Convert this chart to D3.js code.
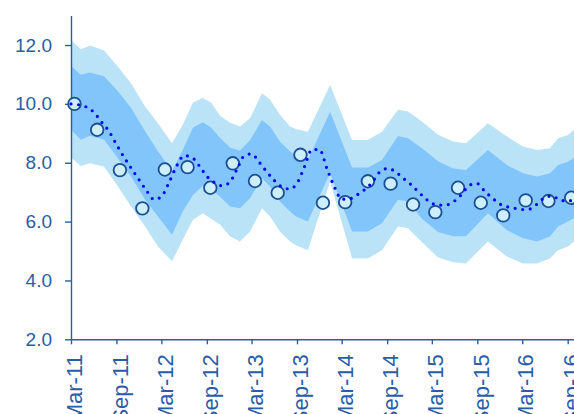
<!DOCTYPE html>
<html>
<head>
<meta charset="utf-8">
<script src="https://cdn.jsdelivr.net/npm/d3@7"></script>
<style>
  body { margin: 0; background: #fff; }
  svg { display: block; }
  .axis path, .axis line { stroke: #2a5ca8; stroke-width: 1.4; }
  .axis text { fill: #2a5ca8; font-family: "Liberation Sans", Arial, sans-serif; }
</style>
</head>
<body>
<svg id="chart" width="574" height="414"></svg>
<script>
const parseDate = d3.timeParse("%Y-%m-%d");

// Fan band vertices (dates where the band edges change direction)
const bandDates = [
  "2011-03-01", "2011-04-10", "2011-05-17", "2011-07-13", "2011-09-07", "2011-10-30", "2011-12-26",
  "2012-02-16", "2012-04-13", "2012-05-27", "2012-07-07", "2012-08-16", "2012-09-18", "2012-10-24", "2012-12-04",
  "2013-01-13", "2013-02-23", "2013-04-12", "2013-05-15", "2013-06-24", "2013-08-04", "2013-08-28", "2013-10-15",
  "2014-01-13", "2014-04-12", "2014-06-15", "2014-08-11", "2014-10-15", "2014-11-24",
  "2015-01-20", "2015-03-26", "2015-05-26", "2015-07-17", "2015-10-14", "2015-12-30",
  "2016-03-04", "2016-04-30", "2016-06-21", "2016-07-24", "2016-09-02", "2016-09-30"
];
const outerHigh = [12.17, 11.86, 11.98, 11.81, 11.26, 10.70, 9.91, 9.34, 8.66, 9.30, 10.05, 10.20, 10.05, 9.60, 9.36,
  9.23, 9.51, 10.36, 10.14, 9.63, 9.23, 9.15, 9.05, 10.64, 8.77, 8.77, 9.05, 9.80, 9.74,
  9.40, 8.95, 8.72, 8.66, 9.34, 8.89, 8.55, 8.43, 8.49, 8.83, 8.94, 9.15];
const innerHigh = [11.29, 10.99, 11.07, 10.94, 10.43, 9.87, 9.07, 8.39, 7.72, 8.45, 9.20, 9.38, 9.20, 8.85, 8.52,
  8.41, 8.77, 9.45, 9.23, 8.72, 8.38, 8.25, 8.09, 9.73, 7.84, 7.84, 8.09, 8.91, 8.83,
  8.49, 8.05, 7.80, 7.75, 8.43, 7.92, 7.64, 7.53, 7.64, 7.92, 8.03, 8.18];
const innerLow = [9.12, 8.78, 8.92, 8.78, 8.15, 7.53, 6.74, 6.17, 5.55, 6.35, 6.90, 7.22, 7.10, 6.85, 6.51,
  6.45, 6.79, 7.47, 7.19, 6.68, 6.34, 6.17, 6.00, 7.65, 5.66, 5.66, 5.94, 6.74, 6.68,
  6.10, 5.65, 5.50, 5.50, 6.28, 5.71, 5.43, 5.32, 5.49, 5.83, 6.00, 6.13];
const outerLow = [8.18, 7.89, 7.98, 7.86, 7.19, 6.51, 5.83, 5.15, 4.65, 5.40, 6.06, 6.28, 6.10, 5.90, 5.49,
  5.32, 5.66, 6.45, 6.17, 5.66, 5.32, 5.20, 5.03, 7.36, 4.75, 4.75, 5.03, 5.83, 5.77,
  5.30, 4.78, 4.62, 4.58, 5.32, 4.81, 4.58, 4.58, 4.75, 5.03, 5.15, 5.35];

// Central projection, one value per month from Mar-11 to Oct-16
const trendFirst = "2011-03-01";
const trendValues = [
  10.00, 9.97, 9.90, 9.72, 9.40, 9.08, 8.62, 8.20, 7.80, 7.43, 7.05, 6.75,
  6.85, 7.33, 7.88, 8.24, 8.19, 7.90, 7.54, 7.33, 7.22, 7.32, 7.78, 8.25,
  8.30, 8.02, 7.70, 7.40, 7.18, 7.11, 7.30, 7.86, 8.45, 8.45, 7.78, 7.15,
  6.76, 6.77, 6.90, 7.08, 7.32, 7.68, 7.80, 7.72, 7.50, 7.30, 7.05, 6.80,
  6.62, 6.56, 6.57, 6.70, 6.94, 7.24, 7.29, 7.03, 6.80, 6.60, 6.50, 6.45,
  6.41, 6.43, 6.60, 6.82, 6.87, 6.73, 6.70, 6.75
];

// Observed quarterly values
const obsDates = [
  "2011-03-15", "2011-06-15", "2011-09-15", "2011-12-15", "2012-03-15", "2012-06-15", "2012-09-15", "2012-12-15",
  "2013-03-15", "2013-06-15", "2013-09-15", "2013-12-15", "2014-03-15", "2014-06-15", "2014-09-15", "2014-12-15",
  "2015-03-15", "2015-06-15", "2015-09-15", "2015-12-15", "2016-03-15", "2016-06-15", "2016-09-15"
];
const obsValues = [10.0, 9.12, 7.75, 6.45, 7.77, 7.85, 7.15, 7.98, 7.38, 6.98, 8.27, 6.64,
  6.66, 7.37, 7.29, 6.58, 6.32, 7.15, 6.64, 6.21, 6.72, 6.70, 6.81];

// Axis ticks
const xTicks = ["2011-03-01", "2011-09-01", "2012-03-01", "2012-09-01", "2013-03-01", "2013-09-01",
  "2014-03-01", "2014-09-01", "2015-03-01", "2015-09-01", "2016-03-01", "2016-09-01"];
const yTicks = [2, 4, 6, 8, 10, 12];

const svg = d3.select("#chart");

// Scales: first and last tick pinned, then domain stretched past the right edge
const x = d3.scaleTime()
    .domain([parseDate(xTicks[0]), parseDate(xTicks[xTicks.length - 1])])
    .range([71, 567.7]);
const xEndDate = parseDate("2016-10-15");
x.range([71, x(xEndDate)]).domain([parseDate(xTicks[0]), xEndDate]);

const y = d3.scaleLinear()
    .domain([2, 13])
    .range([339.3, 15.6]);

// Band table
const bands = bandDates.map((d, i) => ({
  date: parseDate(d),
  oh: outerHigh[i], ih: innerHigh[i], il: innerLow[i], ol: outerLow[i]
}));

const outerArea = d3.area()
    .x(d => x(d.date))
    .y0(d => y(d.ol))
    .y1(d => y(d.oh));

const innerArea = d3.area()
    .x(d => x(d.date))
    .y0(d => y(d.il))
    .y1(d => y(d.ih));

svg.append("path")
    .datum(bands)
    .attr("fill", "#bbe3f8")
    .attr("d", outerArea);

svg.append("path")
    .datum(bands)
    .attr("fill", "#82c5fb")
    .attr("d", innerArea);

// Axes
const xAxis = svg.append("g")
    .attr("class", "axis")
    .attr("transform", `translate(0, ${y(2)})`)
    .call(d3.axisBottom(x)
      .tickValues(xTicks.map(parseDate))
      .tickFormat(d3.timeFormat("%b-%y"))
      .tickSize(5)
      .tickSizeOuter(0));

xAxis.selectAll("text")
    .attr("transform", "rotate(-90)")
    .attr("text-anchor", "end")
    .attr("x", -15)
    .attr("y", 3)
    .attr("dy", "0.35em")
    .style("font-size", "22px");

const yAxis = svg.append("g")
    .attr("class", "axis")
    .attr("transform", "translate(71, 0)")
    .call(d3.axisLeft(y)
      .tickValues(yTicks)
      .tickFormat(d3.format(".1f"))
      .tickSize(6)
      .tickPadding(13)
      .tickSizeOuter(0));

yAxis.selectAll("text").style("font-size", "19px");

// Observed points
const obs = obsDates.map((d, i) => ({ date: parseDate(d), value: obsValues[i] }));

svg.append("g")
    .selectAll("circle")
    .data(obs)
    .enter()
    .append("circle")
    .attr("cx", d => x(d.date))
    .attr("cy", d => y(d.value))
    .attr("r", 6.3)
    .attr("fill", "#cdeefc")
    .attr("stroke", "#1b4f91")
    .attr("stroke-width", 1.8);

// Dotted central projection
const trendStart = parseDate(trendFirst);
const trend = trendValues.map((v, i) => ({ date: d3.timeMonth.offset(trendStart, i), value: v }));

const trendLine = d3.line()
    .x(d => x(d.date))
    .y(d => y(d.value))
    .curve(d3.curveMonotoneX);

svg.append("path")
    .datum(trend)
    .attr("fill", "none")
    .attr("stroke", "#0000ff")
    .attr("stroke-width", 3.2)
    .attr("stroke-linecap", "round")
    .attr("stroke-dasharray", "0 7.6")
    .attr("d", trendLine);
</script>
</body>
</html>
